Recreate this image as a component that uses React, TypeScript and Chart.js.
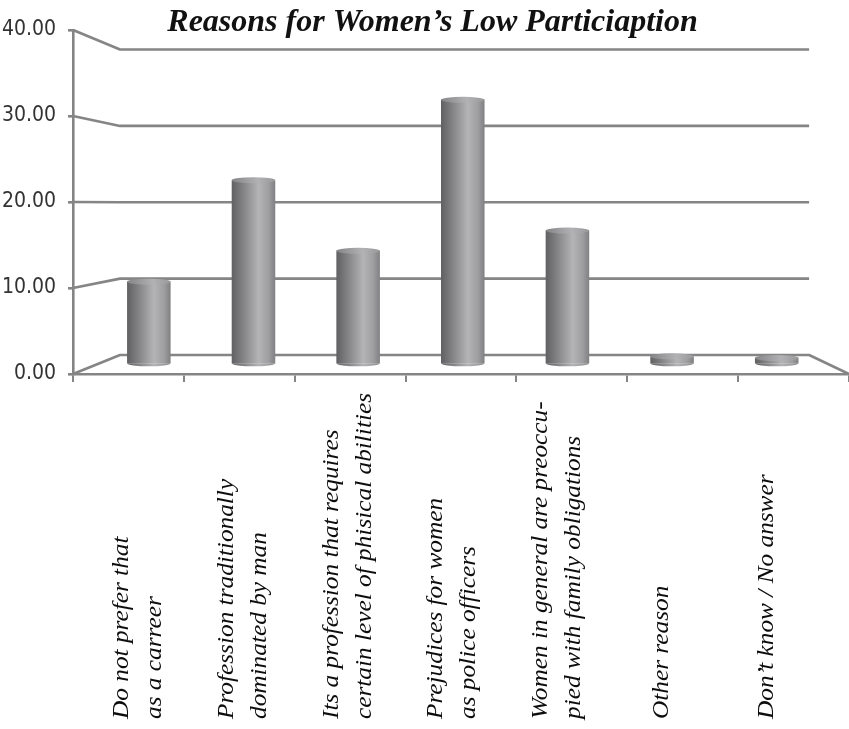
import React, { useEffect, useRef } from "react";
import { Chart, registerables } from "chart.js";

Chart.register(...registerables);

// ---- data ----
const TITLE = "Reasons for Women’s Low Particiaption";
const CATEGORIES: string[][] = [
  ["Do not prefer that", "as a carreer"],
  ["Profession traditionally", "dominated by man"],
  ["Its a profession that requires", "certain level of phisical abilities"],
  ["Prejudices for women", "as police officers"],
  ["Women in general are preoccu-", "pied with family obligations"],
  ["Other reason"],
  ["Don’t know / No answer"],
];
const VALUES = [10.2, 22.7, 14.0, 32.6, 16.5, 1.0, 0.8];
const Y_MIN = 0;
const Y_MAX = 40;
const Y_STEP = 10;

// ---- look ----
const W = 849;
const H = 729;
const FRAME = "#858585";
const DEPTH_SHRINK = 0.112; // how much smaller the back wall is than the front plane
const VANISH = { x: 0.541, y: 0.507 }; // vanishing point, as a fraction of the chart area
const BAR_DEPTH = 0.5; // columns stand halfway between front and back
const CAP_RY = 3.2; // vertical radius of the column end ellipses
const BAR_FRACTION = 0.416;
const LABEL_FONT = 'italic 23px "Liberation Serif", "Times New Roman", serif';
const LABEL_STRETCH = 1.1;
const LABEL_LINE_GAP = 33;
const LABEL_SHIFT = -10;

type Area = { left: number; right: number; top: number; bottom: number };

function vanishing(a: Area) {
  return {
    x: a.left + VANISH.x * (a.right - a.left),
    y: a.top + VANISH.y * (a.bottom - a.top),
  };
}

function project(a: Area, x: number, y: number, depth: number) {
  const v = vanishing(a);
  const k = 1 - DEPTH_SHRINK * depth;
  return { x: v.x + (x - v.x) * k, y: v.y + (y - v.y) * k };
}

function columnGradient(ctx: CanvasRenderingContext2D, cx: number, half: number) {
  const g = ctx.createLinearGradient(cx - half, 0, cx + half, 0);
  g.addColorStop(0, "#606062");
  g.addColorStop(0.3, "#88888a");
  g.addColorStop(0.62, "#b4b4b6");
  g.addColorStop(0.85, "#9e9ea0");
  g.addColorStop(1, "#808082");
  return g;
}

function capGradient(ctx: CanvasRenderingContext2D, cx: number, half: number) {
  const g = ctx.createLinearGradient(cx - half, 0, cx + half, 0);
  g.addColorStop(0, "#858587");
  g.addColorStop(0.6, "#b2b2b4");
  g.addColorStop(1, "#98989a");
  return g;
}

// Side wall, back wall and floor lines for every value tick.
const wallsAndDepth = {
  id: "wallsAndDepth",
  beforeDatasetsDraw(chart: any) {
    const { ctx, chartArea: a, scales } = chart;
    const y = scales.y;
    ctx.save();
    ctx.strokeStyle = FRAME;
    ctx.lineWidth = 2.6;
    ctx.lineJoin = "round";
    y.ticks.forEach((t: any) => {
      const py = y.getPixelForValue(t.value);
      const back1 = project(a, a.left, py, 1);
      const back2 = project(a, a.right, py, 1);
      ctx.beginPath();
      ctx.moveTo(a.left, py);
      ctx.lineTo(back1.x, back1.y);
      ctx.lineTo(back2.x, back2.y);
      if (t.value === Y_MIN) ctx.lineTo(a.right, py);
      ctx.stroke();
    });
    ctx.restore();

    // columns are drawn in the plane halfway back
    const v = vanishing(a);
    const k = 1 - DEPTH_SHRINK * BAR_DEPTH;
    ctx.save();
    ctx.translate(v.x, v.y);
    ctx.scale(k, k);
    ctx.translate(-v.x, -v.y);
  },
  afterDatasetsDraw(chart: any) {
    const { ctx } = chart;
    const meta = chart.getDatasetMeta(0);
    meta.data.forEach((el: any) => {
      const { x, y, base, width } = el.getProps(["x", "y", "base", "width"], true);
      const half = width / 2;
      ctx.fillStyle = el.options.backgroundColor;
      ctx.beginPath();
      ctx.ellipse(x, base, half, CAP_RY, 0, 0, Math.PI);
      ctx.fill();
      ctx.fillStyle = capGradient(ctx, x, half);
      ctx.beginPath();
      ctx.ellipse(x, y, half, CAP_RY, 0, 0, Math.PI * 2);
      ctx.fill();
    });
    ctx.restore();
  },
};

// Category names, standing upright, and the chart heading.
const textLayer = {
  id: "textLayer",
  afterDraw(chart: any) {
    const { ctx, chartArea: a, scales } = chart;
    const xs = scales.x;
    ctx.save();
    ctx.fillStyle = "#0d0d0d";
    ctx.font = LABEL_FONT;
    ctx.textAlign = "left";
    ctx.textBaseline = "middle";
    CATEGORIES.forEach((lines, i) => {
      const c = project(a, xs.getPixelForValue(i), a.bottom, BAR_DEPTH).x + LABEL_SHIFT;
      lines.forEach((line, j) => {
        const lx = c + (j - (lines.length - 1) / 2) * LABEL_LINE_GAP;
        ctx.save();
        ctx.translate(lx, H - 10);
        ctx.rotate(-Math.PI / 2);
        ctx.scale(LABEL_STRETCH, 1);
        ctx.fillText(line, 0, 0);
        ctx.restore();
      });
    });

    ctx.font = 'italic bold 32px "Liberation Serif", "Times New Roman", serif';
    ctx.textAlign = "center";
    ctx.textBaseline = "alphabetic";
    ctx.fillStyle = "#111111";
    ctx.fillText(TITLE, chart.width / 2 + 8, 31);
    ctx.restore();
  },
};

export default function App() {
  const canvasRef = useRef<HTMLCanvasElement | null>(null);

  useEffect(() => {
    const canvas = canvasRef.current;
    if (!canvas) return;
    const chart = new Chart(canvas, {
      type: "bar",
      data: {
        labels: CATEGORIES.map((l) => l.join(" ")),
        datasets: [
          {
            data: VALUES,
            borderWidth: 0,
            barPercentage: BAR_FRACTION,
            categoryPercentage: 1,
            clip: false as any,
            backgroundColor: (c: any) => {
              const ch = c.chart;
              const xs = ch.scales && ch.scales.x;
              if (!xs || c.type !== "data") return "#999999";
              const cx = xs.getPixelForValue(c.dataIndex);
              const half = (xs.width / CATEGORIES.length) * BAR_FRACTION / 2;
              if (!isFinite(cx) || !isFinite(half) || half <= 0) return "#999999";
              return columnGradient(ch.ctx, cx, half);
            },
          },
        ],
      },
      options: {
        responsive: false,
        animation: false,
        devicePixelRatio: 1,
        events: [],
        layout: { padding: { top: 30, left: 0, right: 0, bottom: 0 } },
        plugins: {
          legend: { display: false },
          tooltip: { enabled: false },
          title: { display: false },
        },
        scales: {
          x: {
            type: "category",
            offset: true,
            grid: {
              offset: true,
              drawOnChartArea: false,
              drawTicks: true,
              tickLength: 8,
              color: FRAME,
              lineWidth: 2,
            },
            border: { display: true, color: FRAME, width: 2.6 },
            ticks: { display: false },
            afterFit: (s: any) => {
              s.height = 355;
            },
          },
          y: {
            type: "linear",
            min: Y_MIN,
            max: Y_MAX,
            grid: {
              drawOnChartArea: false,
              drawTicks: true,
              tickLength: 5,
              color: FRAME,
              lineWidth: 2.6,
            },
            border: { display: true, color: FRAME, width: 2.6 },
            ticks: {
              stepSize: Y_STEP,
              padding: 12,
              color: "#333333",
              font: {
                family: "'DejaVu Sans Condensed', 'Liberation Sans', sans-serif",
                size: 21,
              },
              callback: (v: any) => Number(v).toFixed(2),
            },
            afterFit: (s: any) => {
              s.width = 73;
            },
          },
        },
      },
      plugins: [wallsAndDepth, textLayer],
    });
    return () => chart.destroy();
  }, []);

  return (
    <div style={{ position: "absolute", left: 0, top: 0, width: W, height: H, background: "#ffffff" }}>
      <canvas ref={canvasRef} width={W} height={H} style={{ display: "block", width: W, height: H }} />
    </div>
  );
}
